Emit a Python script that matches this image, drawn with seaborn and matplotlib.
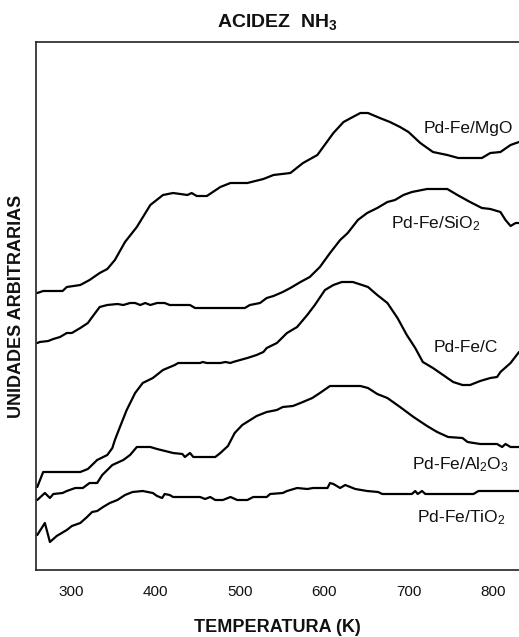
import numpy as np
import pandas as pd
import matplotlib
matplotlib.use("Agg")
import matplotlib.pyplot as plt
import seaborn as sns

# ---- data (temperature in K, signal in arbitrary units) ----
mgo_t = [260, 267, 290, 295, 311, 322, 334, 343, 352, 364, 378, 394, 409, 421, 438, 443, 449, 461,
         477, 489, 509, 528, 540, 560, 575, 592, 611, 623, 634, 643, 652, 666, 678, 690, 700, 714,
         729, 746, 759, 787, 797, 809, 821, 831]
mgo_y = [277, 279, 279, 283, 285, 290, 297, 301, 310, 328, 343, 365, 375, 377, 375, 377, 374, 374,
         383, 387, 387, 391, 395, 397, 407, 415, 437, 448, 453, 457, 457, 452, 448, 443, 438, 427,
         418, 415, 412, 412, 417, 418, 425, 428]

sio2_t = [260, 263, 273, 279, 287, 295, 301, 311, 320, 326, 334, 343, 355, 362, 370, 376, 382, 388,
          394, 402, 411, 417, 441, 447, 506, 512, 524, 532, 540, 551, 560, 572, 583, 595, 607, 619,
          628, 640, 651, 663, 675, 684, 694, 704, 722, 746, 758, 773, 787, 797, 809, 815, 821, 827, 831]
sio2_y = [227, 228, 229, 231, 233, 237, 237, 242, 247, 254, 263, 265, 266, 265, 267, 267, 265, 267,
          265, 267, 267, 265, 265, 262, 262, 265, 267, 272, 274, 278, 282, 288, 293, 303, 317, 330,
          337, 350, 357, 362, 368, 370, 375, 378, 381, 381, 375, 368, 362, 361, 358, 350, 344, 347, 347]

c_t = [260, 267, 271, 311, 320, 331, 343, 349, 352, 358, 366, 376, 385, 397, 409, 423, 427, 453, 456,
       461, 477, 483, 489, 492, 509, 520, 528, 532, 544, 556, 568, 580, 589, 601, 611, 621, 634, 645,
       652, 663, 675, 687, 698, 708, 717, 729, 741, 753, 764, 773, 785, 797, 805, 809, 821, 831]
c_y = [83, 98, 98, 98, 101, 110, 115, 122, 130, 143, 160, 177, 187, 192, 200, 205, 207, 207, 208,
       207, 207, 208, 207, 208, 212, 215, 218, 222, 227, 237, 243, 255, 265, 280, 285, 288, 288, 285,
       283, 275, 267, 252, 235, 222, 208, 202, 195, 188, 185, 185, 189, 192, 193, 198, 207, 218]

al2o3_t = [260, 269, 275, 279, 290, 295, 305, 314, 322, 331, 337, 349, 362, 370, 378, 394, 402, 421,
           432, 435, 441, 445, 471, 477, 486, 494, 503, 520, 532, 544, 551, 563, 572, 586, 595, 607,
           643, 652, 663, 675, 690, 706, 722, 734, 747, 764, 770, 785, 805, 811, 815, 821, 831]
al2o3_y = [70, 77, 72, 76, 77, 79, 82, 82, 87, 87, 95, 105, 110, 115, 123, 123, 121, 117,
           116, 113, 117, 113, 113, 117, 124, 137, 145, 154, 158, 160, 163, 164, 167, 172, 177, 184,
           184, 182, 176, 172, 163, 153, 144, 138, 133, 132, 128, 126, 126, 123, 126, 123, 123]

tio2_t = [260, 269, 275, 283, 295, 301, 311, 319, 325, 331, 338, 346, 355, 364, 373, 385, 397, 402,
          408, 411, 417, 421, 453, 459, 465, 471, 480, 489, 497, 509, 516, 532, 536, 551, 556, 568,
          580, 587, 604, 607, 611, 619, 625, 631, 637, 651, 664, 669, 704, 708, 711, 716, 720, 777,
          783, 831]
tio2_y = [35, 47, 28, 34, 40, 44, 47, 53, 58, 59, 63, 67, 70, 75, 78, 79, 77, 74,
          72, 76, 75, 73, 73, 71, 73, 70, 70, 73, 70, 70, 73, 73, 76, 77, 79, 82,
          81, 82, 82, 87, 86, 82, 85, 83, 81, 79, 78, 76, 76, 79, 76, 79, 76, 76,
          79, 79]

series_names = ["Pd-Fe/MgO", "Pd-Fe/SiO$_2$", "Pd-Fe/C", "Pd-Fe/Al$_2$O$_3$", "Pd-Fe/TiO$_2$"]
label_x = [771, 732, 768, 762, 762]
label_y = [441, 346, 223, 105, 52]
x_ticks = [300, 400, 500, 600, 700, 800]

frames = []
for name, t, y in zip(series_names,
                      [mgo_t, sio2_t, c_t, al2o3_t, tio2_t],
                      [mgo_y, sio2_y, c_y, al2o3_y, tio2_y]):
    frames.append(pd.DataFrame({"T": t, "S": y, "muestra": name}))
df = pd.concat(frames, ignore_index=True)

sns.set_theme(style="white")
plt.rcParams["font.family"] = ["Liberation Sans", "DejaVu Sans"]
plt.rcParams["mathtext.fontset"] = "custom"
plt.rcParams["mathtext.rm"] = "Liberation Sans"
plt.rcParams["mathtext.bf"] = "Liberation Sans:bold"
plt.rcParams["mathtext.default"] = "regular"

fig = plt.figure(figsize=(5.19, 6.37), dpi=100)
ax = fig.add_axes([36 / 519, 67 / 637, 483 / 519, 528 / 637])

sns.lineplot(data=df, x="T", y="S", units="muestra", estimator=None, sort=False,
             color="black", linewidth=1.6, ax=ax, legend=False)

for name, lx, ly in zip(series_names, label_x, label_y):
    ax.text(lx, ly, name, ha="center", va="center", fontsize=12.5, color="#111111")

ax.set_xlim(258.5, 831)
ax.set_ylim(0, 528)
ax.set_xticks(x_ticks)
ax.set_xticklabels([str(v) for v in x_ticks], fontsize=11, color="#111111")
ax.set_yticks([])
ax.tick_params(axis="x", length=0, pad=11)
for side in ["left", "bottom", "top"]:
    ax.spines[side].set_color("#222222")
    ax.spines[side].set_linewidth(1.2)
ax.spines["right"].set_visible(False)

ax.set_xlabel("TEMPERATURA (K)", fontsize=13, fontweight="bold", labelpad=14.5, color="#111111")
ax.set_ylabel("UNIDADES ARBITRARIAS", fontsize=13, fontweight="bold", labelpad=8, color="#111111")
ax.set_title(r"ACIDEZ  NH$_3$", fontsize=14, fontweight="bold", pad=11, color="#111111")

fig.savefig("out.png", dpi=100)
